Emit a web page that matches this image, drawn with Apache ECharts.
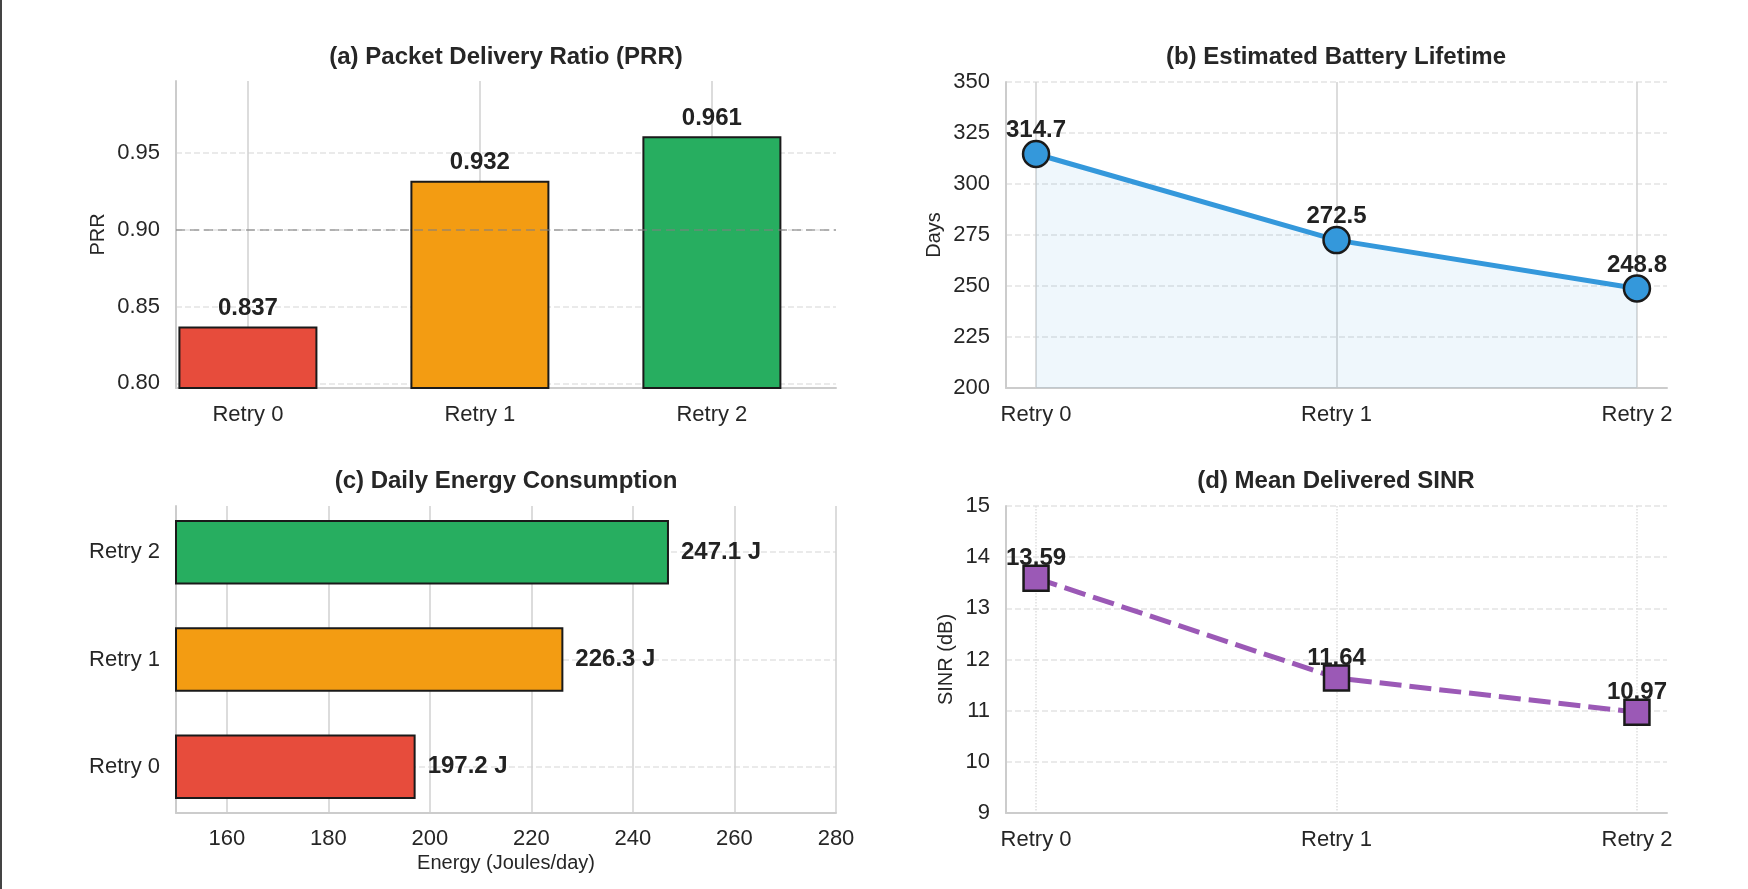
<!DOCTYPE html>
<html>
<head>
<meta charset="utf-8">
<title>Retry comparison</title>
<script src="https://cdn.jsdelivr.net/npm/echarts@6/dist/echarts.min.js"></script>
<style>
  html, body { margin: 0; padding: 0; background: #fff; }
  #main { width: 1748px; height: 889px; }
</style>
</head>
<body>
<div id="main"></div>
<script>
// data
const categories = ['Retry 0', 'Retry 1', 'Retry 2']
const catTicks = [0, 1, 2]
const barColors = ['#e74c3c', '#f39c12', '#27ae60']
const prrValues = [0.837, 0.932, 0.961]
const prrTarget = 0.90
const prrTicks = [0.80, 0.85, 0.90, 0.95]
const lifetimeValues = [314.7, 272.5, 248.8]
const energyValues = [197.2, 226.3, 247.1]
const energyTicks = [160, 180, 200, 220, 240, 260, 280]
const sinrValues = [13.59, 11.64, 10.97]

const FONT = 'Liberation Sans, Arial, sans-serif'
const TEXT = '#262626'
const SPINE = { show: true, onZero: false, lineStyle: { color: '#cccccc', width: 2 } }
const VGRID = { show: true, lineStyle: { color: '#d0d0d0', width: 1.5, type: 'solid' } }
const HGRID = { show: true, lineStyle: { color: '#e4e4e4', width: 1.5, type: [6, 3] } }
const tickLabel = { color: TEXT, fontSize: 22, fontFamily: FONT }
const nameStyle = { color: TEXT, fontSize: 20, fontFamily: FONT }
const valueLabel = { color: '#222', fontSize: 24, fontWeight: 'bold', fontFamily: FONT }

// panel (c) uses a hidden category grid for the bars, laid over the visible one
const cGrid = { left: 176, top: 506, width: 660, height: 307 }
const cMin = -0.43, cMax = 2.43
const cUnit = cGrid.height / (cMax - cMin)

function catAxis (gridIndex, min, max, splitLine) {
    return {
        type: 'value', gridIndex: gridIndex, min: min, max: max,
        axisLine: SPINE,
        axisTick: { show: false, customValues: catTicks },
        axisLabel: Object.assign({ customValues: catTicks, margin: 16, formatter: v => categories[v] }, tickLabel),
        splitLine: splitLine
    }
}

function title (text, x, top) {
    return {
        text: text, left: x, top: top, textAlign: 'center', padding: 0,
        textStyle: { color: TEXT, fontSize: 24, fontWeight: 'bold', fontFamily: FONT }
    }
}

const chart = echarts.init(document.getElementById('main'))
const option = {
    animation: false,
    backgroundColor: '#fff',
    textStyle: { fontFamily: FONT },
    title: [
        title('(a) Packet Delivery Ratio (PRR)', 506, 45),
        title('(b) Estimated Battery Lifetime', 1336, 45),
        title('(c) Daily Energy Consumption', 506, 469),
        title('(d) Mean Delivered SINR', 1336, 469)
    ],
    graphic: [
        { type: 'rect', shape: { x: 0, y: 0, width: 2, height: 889 }, style: { fill: '#444' } }
    ],
    grid: [
        { left: 176, top: 81, width: 660, height: 307 },
        { left: 1006, top: 82, width: 661, height: 306 },
        cGrid,
        { left: 1006, top: 506, width: 661, height: 307 },
        { left: cGrid.left, width: cGrid.width, top: cGrid.top - (2.5 - cMax) * cUnit, height: 3 * cUnit }
    ],
    xAxis: [
        catAxis(0, -0.31, 2.535, VGRID),
        catAxis(1, -0.1, 2.1, VGRID),
        {
            type: 'value', gridIndex: 2, min: 150, max: 280,
            name: 'Energy (Joules/day)', nameLocation: 'middle', nameGap: 40, nameTextStyle: nameStyle,
            axisLine: SPINE,
            axisTick: { show: false, customValues: energyTicks },
            axisLabel: Object.assign({ customValues: energyTicks, margin: 15 }, tickLabel),
            splitLine: VGRID
        },
        catAxis(3, -0.1, 2.1, { show: true, lineStyle: { color: '#dedede', width: 1.5, type: 'dotted' } }),
        { type: 'value', gridIndex: 4, min: 150, max: 280, show: false }
    ],
    yAxis: [
        {
            type: 'value', gridIndex: 0, min: 0.797, max: 0.997,
            name: 'PRR', nameLocation: 'middle', nameGap: 68, nameTextStyle: nameStyle,
            axisLine: SPINE,
            axisTick: { show: false, customValues: prrTicks },
            axisLabel: Object.assign({ customValues: prrTicks, margin: 16, formatter: v => v.toFixed(2) }, tickLabel),
            splitLine: HGRID
        },
        {
            type: 'value', gridIndex: 1, min: 200, max: 350, interval: 25,
            name: 'Days', nameLocation: 'middle', nameGap: 62, nameTextStyle: nameStyle,
            axisLine: SPINE, axisTick: { show: false },
            axisLabel: Object.assign({ margin: 16 }, tickLabel),
            splitLine: HGRID
        },
        {
            type: 'value', gridIndex: 2, min: cMin, max: cMax,
            axisLine: SPINE,
            axisTick: { show: false, customValues: catTicks },
            axisLabel: Object.assign({ customValues: catTicks, margin: 16, formatter: v => categories[v] }, tickLabel),
            splitLine: HGRID
        },
        {
            type: 'value', gridIndex: 3, min: 9, max: 15, interval: 1,
            name: 'SINR (dB)', nameLocation: 'middle', nameGap: 50, nameTextStyle: nameStyle,
            axisLine: SPINE, axisTick: { show: false },
            axisLabel: Object.assign({ margin: 16 }, tickLabel),
            splitLine: HGRID
        },
        { type: 'category', gridIndex: 4, data: categories, show: false }
    ],
    series: [
        {
            // (a) PRR bars
            type: 'bar', xAxisIndex: 0, yAxisIndex: 0, barWidth: 139,
            data: prrValues.map((v, i) => ({ value: [i, v], itemStyle: { color: barColors[i] } })),
            itemStyle: { borderColor: '#1a1a1a', borderWidth: 2 },
            label: Object.assign({ show: true, position: 'top', distance: 6, formatter: p => p.value[1].toFixed(3) }, valueLabel),
            markLine: {
                silent: true, symbol: 'none', z: 5,
                label: { show: false },
                lineStyle: { color: 'rgba(128,128,128,0.55)', width: 2, type: [9, 5] },
                data: [{ yAxis: prrTarget }]
            }
        },
        {
            // (b) lifetime line
            type: 'line', xAxisIndex: 1, yAxisIndex: 1,
            data: lifetimeValues.map((v, i) => [i, v]),
            lineStyle: { color: '#3498db', width: 5 },
            symbol: 'circle', symbolSize: 26,
            itemStyle: { color: '#3498db', borderColor: '#1a1a1a', borderWidth: 2.5 },
            areaStyle: { color: 'rgba(52,152,219,0.11)', origin: 'start' },
            label: Object.assign({ show: true, position: 'top', distance: -3, formatter: p => p.value[1].toFixed(1) }, valueLabel)
        },
        {
            // (c) energy bars
            type: 'bar', xAxisIndex: 4, yAxisIndex: 4, barWidth: 64.5,
            data: energyValues.map((v, i) => ({ value: v, itemStyle: { color: barColors[i] } })),
            itemStyle: { borderColor: '#1a1a1a', borderWidth: 2 },
            label: Object.assign({ show: true, position: 'right', distance: 12, formatter: p => p.value.toFixed(1) + ' J' }, valueLabel)
        },
        {
            // (d) SINR line
            type: 'line', xAxisIndex: 3, yAxisIndex: 3,
            data: sinrValues.map((v, i) => [i, v]),
            lineStyle: { color: '#9b59b6', width: 5, type: [22, 8] },
            symbol: 'rect', symbolSize: 25,
            itemStyle: { color: '#9b59b6', borderColor: '#1a1a1a', borderWidth: 2.5 },
            label: Object.assign({ show: true, position: 'top', distance: -6, formatter: p => p.value[1].toFixed(2) }, valueLabel)
        }
    ]
}
chart.setOption(option)
</script>
</body>
</html>
